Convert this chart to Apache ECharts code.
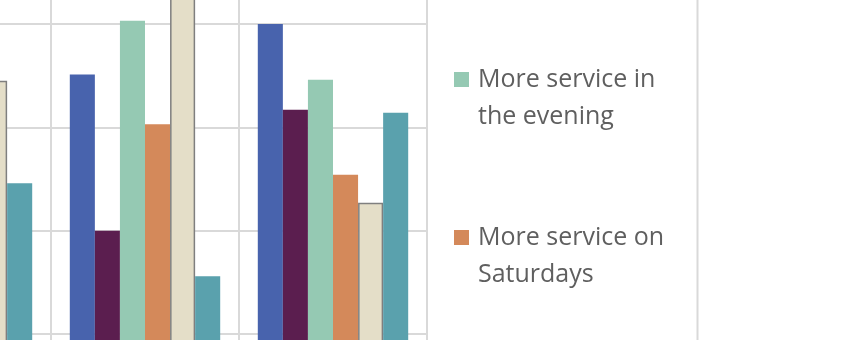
<!DOCTYPE html>
<html><head><meta charset="utf-8">
<script src="https://cdn.jsdelivr.net/npm/echarts@6/dist/echarts.min.js"></script>
<style>html,body{margin:0;padding:0;background:#fff;overflow:hidden;width:848px;height:340px;position:relative;}
#c{position:absolute;left:-200px;top:-400px;width:1100px;height:900px;}</style>
</head><body><div id="c"></div>
<script>
const categories = ['Group A', 'Group B', 'Group C'];
const seriesNames = ['More frequent service', 'More reliable service', 'More service in the evening', 'More service on Saturdays', 'More service on Sundays', 'Faster travel times'];
const frequent   = [30, 35.1, 40.0];
const reliable   = [22, 20.0, 31.7];
const evening    = [38, 40.3, 34.6];
const saturdays  = [28, 30.3, 25.4];
const sundays    = [34.5, 46, 22.7];
const faster     = [24.6, 15.6, 31.4];
const yTicks = [0, 10, 20, 30, 40, 50];

const values = [frequent, reliable, evening, saturdays, sundays, faster];
const colors = ['#4863ad', '#5b1e4f', '#95c9b3', '#d4895a', '#e4dec8', '#5aa1ad'];

// container offset: x +200, y +400 relative to the visible window
const OX = 200, OY = 400, W = 1100, H = 900;
const chart = echarts.init(document.getElementById('c'));
chart.setOption({
  animation: false,
  color: colors,
  grid: { left: -137 + OX, right: W - (427 + OX), top: -79.5 + OY, bottom: H - (437.5 + OY), containLabel: false },
  xAxis: {
    type: 'category', data: categories,
    axisLine: { show: false }, axisTick: { show: false }, axisLabel: { show: false },
    splitLine: { show: true, lineStyle: { color: '#d9d9d9', width: 2 } }
  },
  yAxis: {
    type: 'value', min: yTicks[0], max: yTicks[yTicks.length - 1], interval: 10,
    axisLine: { show: false }, axisTick: { show: false }, axisLabel: { show: false },
    splitLine: { show: true, lineStyle: { color: '#d9d9d9', width: 2 } }
  },
  legend: {
    orient: 'vertical', left: 453 + OX, top: 80 - 2 * 158 - 56 + OY, padding: 0, itemGap: 47,
    itemWidth: 15, itemHeight: 15, icon: 'rect',
    formatter: n => '\n' + n,
    textStyle: { fontFamily: 'Open Sans', fontSize: 25, color: '#5f5f5f', width: 205, overflow: 'break', lineHeight: 37, padding: [0, 0, 0, 4] },
    data: seriesNames
  },
  graphic: [{ type: 'line', shape: { x1: 697.5 + OX, y1: 0, x2: 697.5 + OX, y2: H }, style: { stroke: '#d9d9d9', lineWidth: 2 } }],
  series: seriesNames.map((n, i) => ({
    name: n, type: 'bar', data: values[i], barGap: '0%', barCategoryGap: '20%',
    itemStyle: i === 4 ? { color: colors[i], borderColor: '#7f7f7f', borderWidth: 1.5 } : { color: colors[i] }
  }))
});
</script></body></html>
